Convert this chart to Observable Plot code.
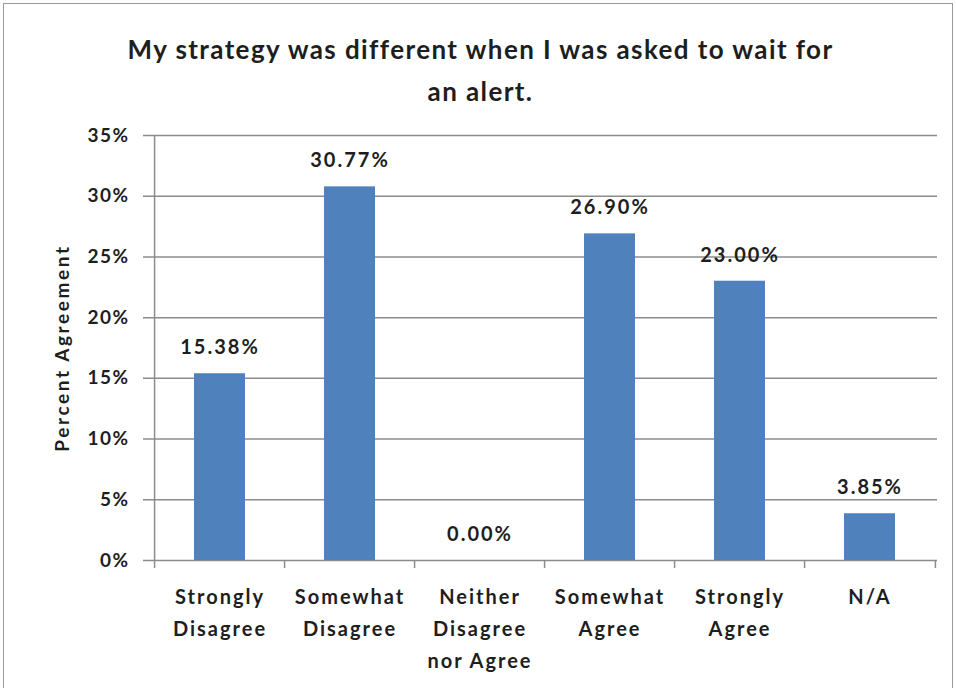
<!DOCTYPE html>
<html>
<head>
<meta charset="utf-8">
<script src="https://cdn.jsdelivr.net/npm/d3@7"></script>
<script src="https://cdn.jsdelivr.net/npm/@observablehq/plot@0.6"></script>
<style>
  html, body { margin: 0; padding: 0; background: #fff; }
  #wrap { position: relative; width: 956px; height: 688px; overflow: hidden; }
  #border { position: absolute; left: 3px; top: 3px; width: 950px; height: 700px; border: 1px solid #9a9a9a; box-sizing: border-box; pointer-events: none; }
</style>
</head>
<body>
<div id="wrap"><div id="border"></div></div>
<script>
const categories = ["Strongly\nDisagree", "Somewhat\nDisagree", "Neither\nDisagree\nnor Agree", "Somewhat\nAgree", "Strongly\nAgree", "N/A"];
const values = [15.38, 30.77, 0.00, 26.90, 23.00, 3.85];
const yTicks = [0, 5, 10, 15, 20, 25, 30, 35];
const titleText = "My strategy was different when I was asked to wait for\nan alert.";
const yLabel = "Percent Agreement";

const data = categories.map((c, i) => ({category: c, value: values[i]}));

const W = 956, H = 688;
const mL = 152, mR = 19, mT = 135, mB = 128;
const step = (W - mL - mR) / categories.length;
const font = "Lato, 'Open Sans', sans-serif";
const ink = "#1e1e1e";
const gridColor = "#8c8c8c";
const first = categories[0], last = categories[categories.length - 1];

const chart = Plot.plot({
  width: W,
  height: H,
  marginLeft: mL,
  marginRight: mR,
  marginTop: mT,
  marginBottom: mB,
  style: {fontFamily: font, color: ink, background: "transparent", overflow: "visible"},
  x: {domain: categories, paddingInner: 0.61, paddingOuter: 0.305, label: null},
  y: {domain: [0, 35], label: null},
  marks: [
    Plot.ruleY(yTicks, {y: d => d, stroke: gridColor, strokeWidth: 1.5, insetLeft: -9}),
    Plot.ruleX([first], {x: d => d, dx: -step / 2, stroke: gridColor, strokeWidth: 1.5}),
    Plot.ruleX(categories, {x: d => d, dx: -step / 2, y1: 0, y2: 0, stroke: gridColor, strokeWidth: 1.5, insetBottom: -8}),
    Plot.ruleX([last], {x: d => d, dx: step / 2, y1: 0, y2: 0, stroke: gridColor, strokeWidth: 1.5, insetBottom: -8}),
    Plot.barY(data, {x: "category", y: "value", fill: "#4F81BD"}),
    Plot.text(data, {x: "category", y: "value", text: d => d.value.toFixed(2) + "%", dy: -26, fontSize: 20, fontWeight: "bold", fill: ink, ariaLabel: () => "value-labels"}),
    Plot.axisY({ticks: yTicks, tickSize: 0, tickPadding: 23, tickFormat: d => d + "%", fontSize: 19, fill: ink, fontWeight: "bold"}),
    Plot.axisX({tickSize: 0, tickPadding: 21, fontSize: 20, fontWeight: "bold", lineHeight: 1.6, fill: ink}),
    Plot.text([yLabel], {frameAnchor: "left", textAnchor: "middle", dx: -90, rotate: -90, fontSize: 19, fontWeight: "bold", fill: ink, ariaLabel: () => "ylabel"}),
    Plot.text([titleText], {frameAnchor: "top", dx: 480 - (mL + (W - mL - mR) / 2), dy: -69, lineAnchor: "middle", lineHeight: 1.62, fontSize: 26, fontWeight: "bold", fill: ink, ariaLabel: () => "title"})
  ]
});

const svg = d3.select(chart);
const spacing = {
  "value-labels": "2px",
  "y-axis tick label": "1.5px",
  "x-axis tick label": "2px",
  "ylabel": "2.6px",
  "title": "1.4px"
};
for (const [k, v] of Object.entries(spacing)) {
  svg.selectAll(`g[aria-label="${k}"] text, text[aria-label="${k}"]`).style("letter-spacing", v);
}
document.getElementById("wrap").prepend(chart);
</script>
</body>
</html>
